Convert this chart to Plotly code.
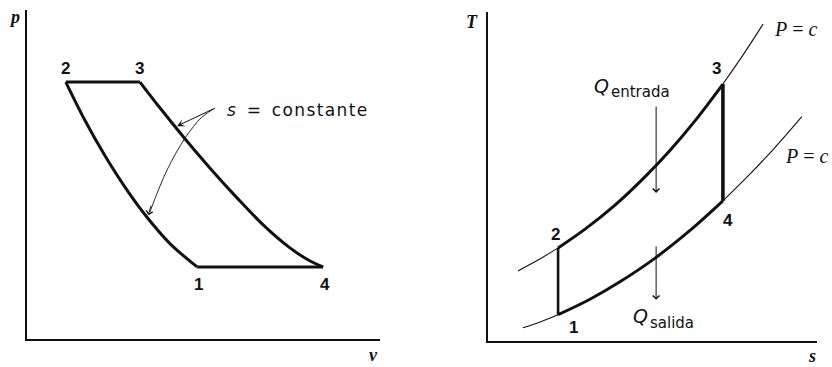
import plotly.graph_objects as go

# ---- p-v diagram (arbitrary units) ----
# compression 2 -> 1 along s = constant (listed from state 2 to state 1)
v_comp = [1.10, 1.64, 2.21, 2.78, 3.40, 4.05, 4.82]
p_comp = [7.81, 6.65, 5.57, 4.61, 3.70, 2.90, 2.19]
# expansion 3 -> 4 along s = constant
v_exp = [3.20, 3.77, 4.48, 5.18, 5.95, 6.69, 7.45, 8.02, 8.39]
p_exp = [7.81, 7.02, 6.08, 5.20, 4.29, 3.47, 2.77, 2.37, 2.19]
# leader line of the "s = constante" callout (curved one)
v_leader = [5.33, 4.96, 4.48, 3.97, 3.48]
p_leader = [7.02, 6.75, 6.11, 5.14, 3.86]

# ---- T-s diagram (arbitrary units) ----
# high-pressure isobar; index 2 = state 2, index 8 = state 3
s_high = [0.91, 1.52, 2.13, 2.95, 3.86, 4.77, 5.53, 6.29, 7.14, 7.81, 8.36]
T_high = [2.13, 2.46, 2.83, 3.40, 4.13, 4.99, 5.79, 6.69, 7.81, 8.78, 9.63]
# low-pressure isobar; index 2 = state 1, index 7 = state 4
s_low = [1.06, 1.58, 2.13, 3.10, 4.01, 5.08, 6.14, 7.14, 7.96, 8.72, 9.54]
T_low = [0.40, 0.58, 0.80, 1.27, 1.80, 2.52, 3.36, 4.26, 5.07, 5.88, 6.82]
# heat arrows (s position, start T, end T)
s_heat = 5.11
T_q_in = [7.17, 4.50]
T_q_out = [2.92, 1.25]

# state points taken from the curve arrays
pv_state = {
    "1": (v_comp[-1], p_comp[-1]),
    "2": (v_comp[0], p_comp[0]),
    "3": (v_exp[0], p_exp[0]),
    "4": (v_exp[-1], p_exp[-1]),
}
ts_state = {
    "1": (s_low[2], T_low[2]),
    "2": (s_high[2], T_high[2]),
    "3": (s_high[8], T_high[8]),
    "4": (s_low[7], T_low[7]),
}

BLACK = "#111111"
THICK = 3
THIN = 1.1

fig = go.Figure()


def line(x, y, width, xa="x", ya="y", shape="spline"):
    fig.add_trace(go.Scatter(
        x=x, y=y, mode="lines", xaxis=xa, yaxis=ya,
        line=dict(color=BLACK, width=width, shape=shape, smoothing=1.0),
        hoverinfo="skip", showlegend=False))


# p-v cycle
line(v_comp, p_comp, THICK)
line(v_exp, p_exp, THICK)
line([pv_state["2"][0], pv_state["3"][0]], [pv_state["2"][1], pv_state["3"][1]], THICK, shape="linear")
line([pv_state["1"][0], pv_state["4"][0]], [pv_state["1"][1], pv_state["4"][1]], THICK, shape="linear")
line(v_leader, p_leader, 0.9)

# T-s isobars: thin outside the cycle, thick along it
line(s_high[:3], T_high[:3], THIN, "x2", "y2")
line(s_high[2:9], T_high[2:9], THICK, "x2", "y2")
line(s_high[8:], T_high[8:], THIN, "x2", "y2")
line(s_low[:3], T_low[:3], THIN, "x2", "y2")
line(s_low[2:8], T_low[2:8], THICK, "x2", "y2")
line(s_low[7:], T_low[7:], THIN, "x2", "y2")
# isentropes 1-2 and 3-4
line([ts_state["1"][0], ts_state["2"][0]], [ts_state["1"][1], ts_state["2"][1]], 2.6, "x2", "y2", "linear")
line([ts_state["4"][0], ts_state["3"][0]], [ts_state["4"][1], ts_state["3"][1]], 3.6, "x2", "y2", "linear")

ann = []
num_font = dict(family="Liberation Sans, Arial, sans-serif", size=17, color=BLACK)

pv_offsets = {"1": (1, -18), "2": (0, 14), "3": (0, 14), "4": (2, -18)}
for k, (x, y) in pv_state.items():
    dx, dy = pv_offsets[k]
    ann.append(dict(x=x, y=y, xref="x", yref="y", text="<b>%s</b>" % k, showarrow=False,
                    xshift=dx, yshift=dy, font=num_font))

ts_offsets = {"1": (15, -13), "2": (-3, 13), "3": (-6, 16), "4": (5, -20)}
for k, (x, y) in ts_state.items():
    dx, dy = ts_offsets[k]
    ann.append(dict(x=x, y=y, xref="x2", yref="y2", text="<b>%s</b>" % k, showarrow=False,
                    xshift=dx, yshift=dy, font=num_font))

# s = constante callout
ann.append(dict(x=5.62, y=6.96, xref="x", yref="y", xanchor="left", yanchor="middle",
                showarrow=False,
                text='<i>s</i>  =  <span style="letter-spacing:1.4px">constante</span>',
                font=dict(family="DejaVu Sans, sans-serif", size=17, color=BLACK)))
ann.append(dict(x=4.25, y=6.47, xref="x", yref="y", ax=5.33, ay=7.02, axref="x", ayref="y",
                text="", showarrow=True, arrowhead=3, arrowsize=1.3, arrowwidth=1, arrowcolor=BLACK))
ann.append(dict(x=3.44, y=3.76, xref="x", yref="y", ax=3.52, ay=4.10, axref="x", ayref="y",
                text="", showarrow=True, arrowhead=4, arrowsize=1.4, arrowwidth=0.9, arrowcolor=BLACK))

# heat arrows
for T_pair in (T_q_in, T_q_out):
    ann.append(dict(x=s_heat, y=T_pair[1], xref="x2", yref="y2", ax=s_heat, ay=T_pair[0],
                    axref="x2", ayref="y2", text="", showarrow=True, arrowhead=4,
                    arrowsize=1.3, arrowwidth=1, arrowcolor=BLACK))


def paper_text(txt, px, py, font, xanchor="center"):
    ann.append(dict(x=px / 832, y=1 - py / 367, xref="paper", yref="paper", text=txt,
                    showarrow=False, font=font, xanchor=xanchor, yanchor="middle"))


q_font = dict(family="DejaVu Sans, sans-serif", size=19, color=BLACK)
sub_font = dict(family="DejaVu Sans, sans-serif", size=15, color=BLACK)
paper_text("<i>Q</i>", 601, 86, q_font)
paper_text("entrada", 609, 92, sub_font, "left")
paper_text("<i>Q</i>", 640, 316, q_font)
paper_text("salida", 648, 323, sub_font, "left")

# isobar labels
pc_font = dict(family="Liberation Serif, serif", size=20, color=BLACK)
paper_text("<i>P</i> = <i>c</i>", 772, 29, pc_font, "left")
paper_text("<i>P</i> = <i>c</i>", 783, 156, pc_font, "left")

# axis symbols
ax_font = dict(family="Liberation Serif, DejaVu Serif, serif", size=18, color=BLACK)
for txt, px, py in (("p", 15, 17), ("v", 373, 355), ("T", 472, 22), ("s", 812, 356)):
    paper_text("<b><i>%s</i></b>" % txt, px, py, ax_font)

axis_common = dict(range=[0, 10], showgrid=False, zeroline=False, showticklabels=False,
                   ticks="", showline=True, linecolor=BLACK, linewidth=2, fixedrange=True)

fig.update_layout(
    width=832, height=367,
    margin=dict(l=0, r=0, t=0, b=0),
    paper_bgcolor="white", plot_bgcolor="white",
    xaxis=dict(domain=[27 / 832, 380 / 832], anchor="y", **axis_common),
    yaxis=dict(domain=[28 / 367, 357 / 367], anchor="x", **axis_common),
    xaxis2=dict(domain=[488 / 832, 817 / 832], anchor="y2", **axis_common),
    yaxis2=dict(domain=[26 / 367, 355 / 367], anchor="x2", **axis_common),
    annotations=ann,
)

fig.write_html("out.html")
